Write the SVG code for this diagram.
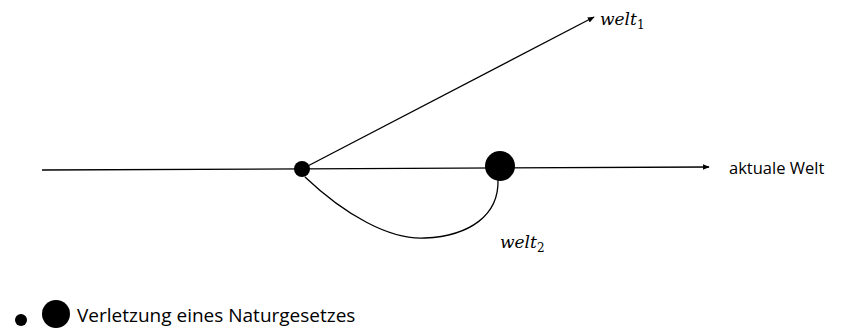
<svg xmlns="http://www.w3.org/2000/svg" width="843" height="330" viewBox="0 0 843 330">
<style>
.ln{stroke:#000;stroke-width:1.3;fill:none}
.math{font-family:"DejaVu Serif","Liberation Serif",serif;font-style:italic;font-size:17px}
.sub{font-family:"DejaVu Serif","Liberation Serif",serif;font-style:normal;font-size:12px}
.lbl{font-family:"Open Sans","Liberation Sans",sans-serif;font-size:16.5px}
.leg{font-family:"Open Sans","Liberation Sans",sans-serif;font-size:19px}
</style>
<defs>
<marker id="ah" viewBox="0 0 10 10" refX="9" refY="5" markerWidth="7" markerHeight="7" orient="auto" markerUnits="userSpaceOnUse">
<path d="M0,1 L10,5 L0,9 z" fill="#000"/>
</marker>
</defs>
<rect width="843" height="330" fill="#fff"/>
<g id="connectors">
<path class="ln" d="M42,170 L709,167" marker-end="url(#ah)"/>
<path class="ln" d="M302,169 L594,17" marker-end="url(#ah)"/>
<path class="ln" d="M305,177 C345,215 390,240 425,238 C470,236 499,215 498,180"/>
</g>
<g id="node-small">
<circle cx="302" cy="169" r="8" fill="#000"/>
</g>
<g id="node-big">
<circle cx="500" cy="166" r="15" fill="#000"/>
</g>
<g id="label-welt1">
<text x="600" y="25" class="math">welt<tspan class="sub" dy="4">1</tspan></text>
</g>
<g id="label-welt2">
<text x="500" y="248" class="math">welt<tspan class="sub" dy="4">2</tspan></text>
</g>
<g id="label-aktual">
<text x="729" y="174" class="lbl">aktuale Welt</text>
</g>
<g id="legend">
<circle cx="21" cy="320" r="6" fill="#000"/>
<circle cx="56" cy="314" r="14" fill="#000"/>
<text x="77" y="322" class="leg">Verletzung eines Naturgesetzes</text>
</g>
</svg>
